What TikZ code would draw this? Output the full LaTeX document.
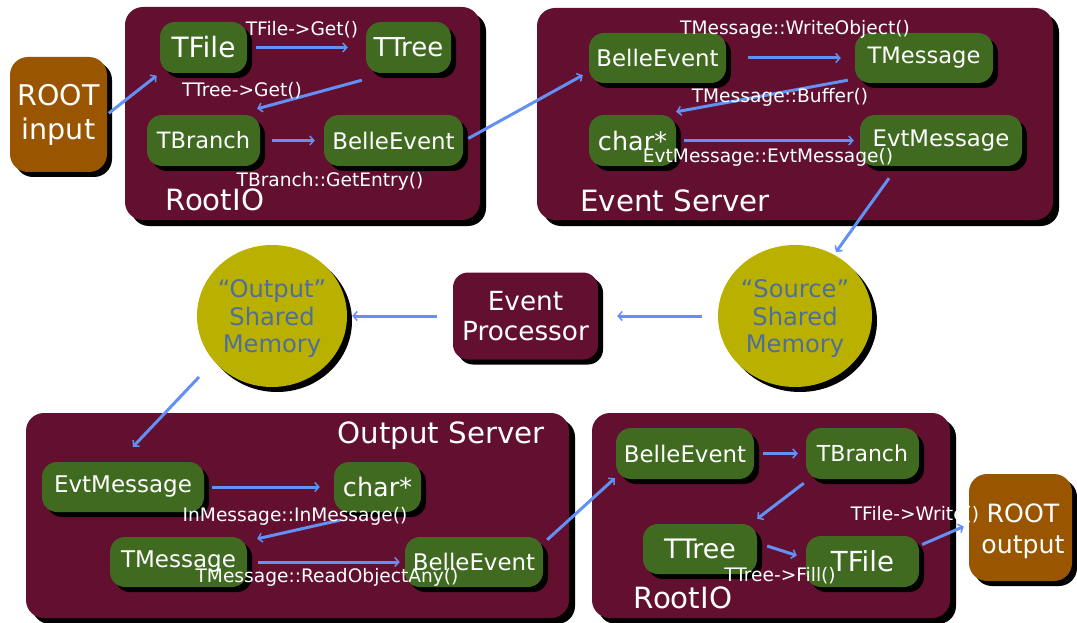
\documentclass[tikz,border=0pt]{standalone}
\usepackage{fontspec}
\setmainfont{DejaVu Sans}
\usetikzlibrary{shadows,arrows.meta,calc,shapes.geometric}
\definecolor{boxmaroon}{RGB}{99,15,48}
\definecolor{leaf}{RGB}{63,106,32}
\definecolor{rootorange}{RGB}{153,85,0}
\definecolor{memolive}{RGB}{185,176,0}
\definecolor{memtext}{RGB}{80,110,155}
\definecolor{flowblue}{RGB}{98,144,245}
\newcommand\fs[2]{\fontsize{#1pt}{#2pt}\selectfont}
\begin{document}
\begin{tikzpicture}[x=1pt,y=-1pt,
  shad/.style={drop shadow={shadow xshift=5pt,shadow yshift=-5pt,opacity=1,fill=black}},
  bigbox/.style={rectangle,rounded corners=18pt,fill=boxmaroon,inner sep=0,
    drop shadow={shadow xshift=6pt,shadow yshift=-6pt,opacity=1,fill=black}},
  cls/.style={rectangle,rounded corners=15pt,fill=leaf,text=white,inner sep=0,
    minimum height=51pt,shad,font=\fs{22.9}{26}},
  rootbox/.style={rectangle,rounded corners=18pt,fill=rootorange,text=white,
    align=center,inner sep=0,shad,font=\fs{28.5}{34}},
  mem/.style={ellipse,fill=memolive,inner sep=0,shad},
  memtxt/.style={text=memtext,align=center,inner sep=0,font=\fs{24.2}{27.5}},
  lbl/.style={text=white,inner sep=0,font=\fs{18.6}{21}},
  ttl/.style={text=white,inner sep=0,font=\fs{29.3}{34}},
  flow/.style={draw=flowblue,line width=3pt,
    -{Straight Barb[length=4pt,width=9pt,line width=1.5pt]}}]
\useasboundingbox (0,0) rectangle (1077,623);

% ---------- top left ----------
\node[rootbox,minimum width=97pt,minimum height=115pt] (rootin) at (58.5,114.5) {ROOT\\input};
\node[bigbox,minimum width=355pt,minimum height=213pt] (rio1) at (302.5,113.5) {};
\node[cls,minimum width=87pt,font=\fs{28}{32}] (tfile1) at (203.5,47.5) {TFile};
\node[cls,minimum width=85pt,font=\fs{26}{30}] (ttree1) at (408.5,47.5) {TTree};
\node[cls,minimum width=113pt,font=\fs{22.5}{26}] (tbranch1) at (203.5,140.5) {TBranch};
\node[cls,minimum width=139pt] (belle1) at (393.5,140.5) {BelleEvent};
\node[ttl] (rio1t) at (215,200) {RootIO};

% ---------- event server ----------
\node[bigbox,minimum width=516pt,minimum height=212pt] (es) at (795,114) {};
\node[cls,minimum width=137pt,minimum height=50pt] (belle2) at (657.5,58) {BelleEvent};
\node[cls,minimum width=138pt,minimum height=50pt,font=\fs{22.6}{26}] (tmsg2) at (924,58) {TMessage};
\node[cls,minimum width=87pt,font=\fs{25.5}{29}] (char2) at (632.5,140.5) {char*};
\node[cls,minimum width=162pt,font=\fs{22.8}{26}] (evtm2) at (941,140.5) {EvtMessage};
\node[ttl] (est) at (675,201) {Event Server};

% ---------- middle ----------
\node[mem,minimum width=150pt,minimum height=142pt] (osm) at (272,316) {};
\node[memtxt] (osmt) at (272,319) {“Output”\\Shared\\Memory};
\node[mem,minimum width=154pt,minimum height=142pt] (ssm) at (795,316) {};
\node[memtxt] (ssmt) at (795,319) {“Source”\\Shared\\Memory};
\node[rectangle,rounded corners=15pt,fill=boxmaroon,text=white,align=center,inner sep=0,shad,
  font=\fs{26.3}{30.5},minimum width=145pt,minimum height=87pt] (ep) at (525.5,316) {Event\\Processor};

% ---------- output server ----------
\node[bigbox,minimum width=543pt,minimum height=205pt] (os) at (297.5,515.5) {};
\node[cls,minimum width=162pt,minimum height=50pt,font=\fs{23}{26}] (evtm3) at (123,487) {EvtMessage};
\node[cls,minimum width=87pt,minimum height=50pt,font=\fs{25.5}{29}] (char3) at (377.5,487) {char*};
\node[cls,minimum width=137pt,minimum height=50pt,font=\fs{23}{26}] (tmsg3) at (178.5,562) {TMessage};
\node[cls,minimum width=138pt,minimum height=50pt] (belle3) at (474,562) {BelleEvent};
\node[ttl] (ost) at (441,436) {Output Server};

% ---------- bottom right ----------
\node[bigbox,minimum width=358pt,minimum height=205pt] (rio2) at (771,515.5) {};
\node[cls,minimum width=138pt] (belle4) at (685,453.5) {BelleEvent};
\node[cls,minimum width=113pt,font=\fs{22}{26}] (tbranch4) at (862.5,453.5) {TBranch};
\node[cls,minimum width=114pt,minimum height=50pt,font=\fs{26.8}{31}] (ttree4) at (700,549) {TTree};
\node[cls,minimum width=113pt,font=\fs{27.6}{32}] (tfile4) at (862.5,561.5) {TFile};
\node[ttl] (rio2t) at (683,598) {RootIO};
\node[rectangle,rounded corners=18pt,fill=rootorange,inner sep=0,shad,
  minimum width=103pt,minimum height=107pt] (rootout) at (1020.5,527.5) {};
\node[text=white,align=center,inner sep=0,font=\fs{25.2}{31}] (rootoutt) at (1023,531) {ROOT\\output};

% ---------- connectors ----------
\draw[flow,shorten <=2pt,shorten >=4pt] (rootin.east) -- (tfile1.south west);
\draw[flow,shorten <=9pt,shorten >=18pt] (tfile1.east) -- (ttree1.west);
\draw[flow] ($(ttree1.south west)+(-4,7)$) -- ($(tbranch1.north east)+(-3,-6)$);
\draw[flow,shorten <=12pt,shorten >=9pt] (tbranch1.east) -- (belle1.west);
\draw[flow] ($(belle1.east)+(5,-2)$) -- ($(belle2.south west)+(-6,-8)$);
\draw[flow,shorten <=22pt,shorten >=14pt] (belle2.east) -- (tmsg2.west);
\draw[flow] ($(tmsg2.south west)+(-7,-3)$) -- ($(char2.north east)+(0,-3)$);
\draw[flow,shorten <=8pt,shorten >=6pt] (char2.east) -- (evtm2.west);
\draw[flow] ($(evtm2.south)+(-52,12)$) -- ($(ssm.center)+(41,-64)$);
\draw[flow,shorten <=16pt,shorten >=19pt] (ssm.west) -- (ep.east);
\draw[flow,shorten <=16pt,shorten >=5pt] (ep.west) -- (osm.east);
\draw[flow] ($(osm.center)+(-73,61)$) -- ($(evtm3.north)+(10,-15)$);
\draw[flow,shorten <=8pt,shorten >=14pt] (evtm3.east) -- (char3.west);
\draw[flow] ($(char3.south west)+(6,8)$) -- ($(tmsg3.north east)+(10,2)$);
\draw[flow,shorten <=11pt,shorten >=5pt] (tmsg3.east) -- (belle3.west);
\draw[flow] ($(belle3.north east)+(4,3)$) -- ($(belle4.south west)+(-1,-1)$);
\draw[flow,shorten <=9pt,shorten >=8pt] (belle4.east) -- (tbranch4.west);
\draw[flow] ($(tbranch4.south west)+(-2,4)$) -- ($(ttree4.north east)+(0,-5)$);
\draw[flow] ($(ttree4.east)+(10,-3)$) -- ($(tfile4.west)+(-9,-6)$);
\draw[flow] ($(tfile4.east)+(3,-17)$) -- ($(rootout.west)+(-5,-1)$);

% ---------- labels ----------
\node[lbl] (l1) at (302,30) {TFile->Get()};
\node[lbl] (l2) at (242,91) {TTree->Get()};
\node[lbl] (l3) at (330,181) {TBranch::GetEntry()};
\node[lbl] (l4) at (795,29) {TMessage::WriteObject()};
\node[lbl] (l5) at (780,97) {TMessage::Buffer()};
\node[lbl] (l6) at (768,157) {EvtMessage::EvtMessage()};
\node[lbl] (l7) at (295,516) {InMessage::InMessage()};
\node[lbl] (l8) at (327,577) {TMessage::ReadObjectAny()};
\node[lbl] (l9) at (915,515) {TFile->Write()};
\node[lbl] (l10) at (780,576) {TTree->Fill()};
\end{tikzpicture}
\end{document}
